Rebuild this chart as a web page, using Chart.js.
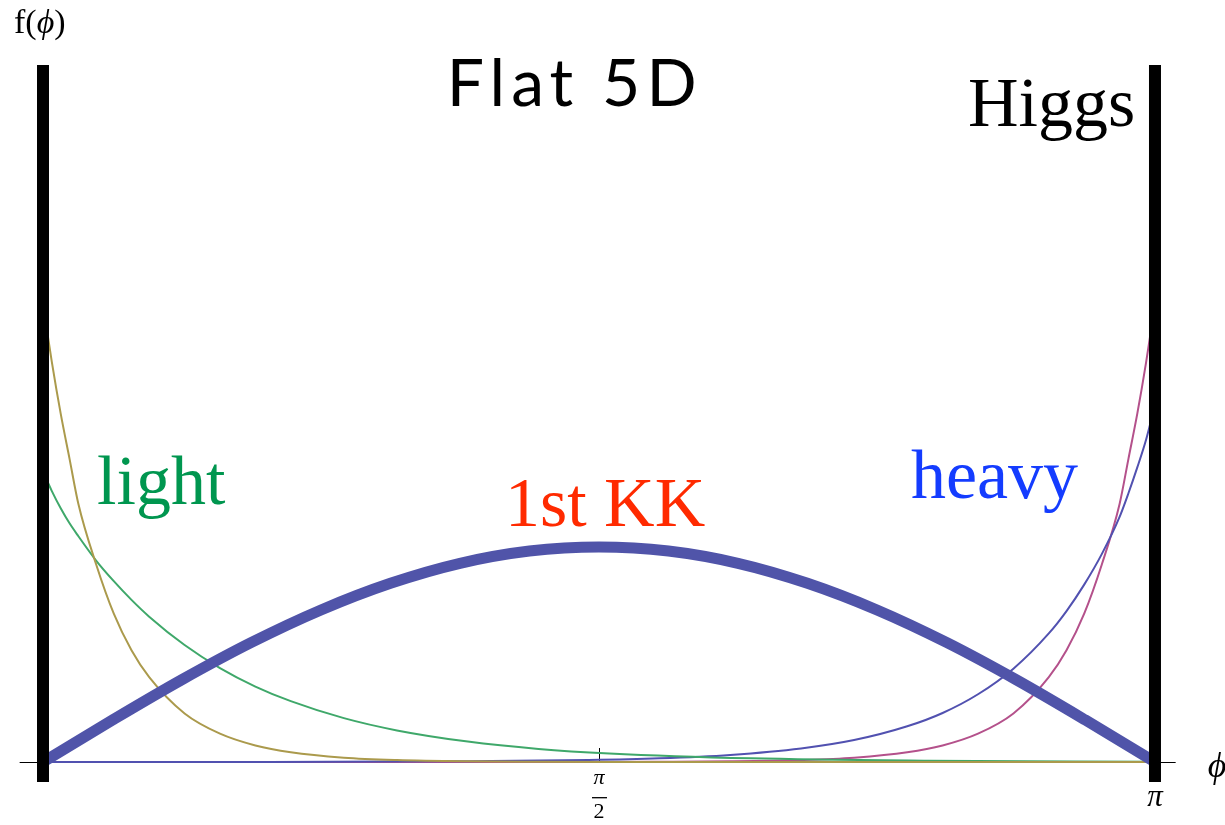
<!DOCTYPE html>
<html>
<head>
<meta charset="utf-8">
<script src="https://cdn.jsdelivr.net/npm/chart.js@4"></script>
<style>
  html, body { margin: 0; padding: 0; background: #ffffff; }
  #wrap { width: 1225px; height: 825px; }
</style>
</head>
<body>
<div id="wrap"><canvas id="c" width="1225" height="825"></canvas></div>
<script>
// Profiles f(phi) along the flat extra dimension, 0 <= phi <= pi
const phiKK = [0, 0.1963, 0.3927, 0.5890, 0.7854, 0.9817, 1.1781, 1.3744, 1.5708,
               1.7671, 1.9635, 2.1598, 2.3562, 2.5525, 2.7489, 2.9452, 3.1416];
const firstKK = [0, 0.195, 0.383, 0.556, 0.707, 0.831, 0.924, 0.981, 1.0,
                 0.981, 0.924, 0.831, 0.707, 0.556, 0.383, 0.195, 0];

// sample points packed towards the brane at phi = 0
const phiLeft = [0, 0.025, 0.05, 0.075, 0.1, 0.15, 0.2, 0.25, 0.3, 0.4, 0.5,
                 0.6, 0.7, 0.85, 1.0, 1.2, 1.4, 1.6, 2.0, 2.5, 3.1416];
const lightSteep = [2.13, 1.86, 1.62, 1.41, 1.20, 0.92, 0.69, 0.52, 0.395, 0.226, 0.132,
                    0.077, 0.045, 0.020, 0.009, 0.003, 0.001, 0, 0, 0, 0];
const lightSoft = [1.35, 1.26, 1.18, 1.11, 1.05, 0.937, 0.841, 0.754, 0.676, 0.544, 0.437,
                   0.351, 0.283, 0.204, 0.147, 0.095, 0.061, 0.040, 0.017, 0.006, 0.001];

// sample points packed towards the Higgs brane at phi = pi
const phiRight = [0, 0.6416, 1.1416, 1.5416, 1.7416, 1.9416, 2.1416, 2.2916, 2.4416, 2.5416, 2.6416,
                  2.7416, 2.8416, 2.8916, 2.9416, 2.9916, 3.0416, 3.0666, 3.0916, 3.1166, 3.1416];
const heavySoft = [0, 0, 0.003, 0.009, 0.017, 0.033, 0.063, 0.102, 0.166, 0.228, 0.315,
                   0.434, 0.598, 0.702, 0.825, 0.968, 1.14, 1.25, 1.37, 1.50, 1.66];
const heavySteep = [0, 0, 0, 0, 0.001, 0.003, 0.009, 0.020, 0.045, 0.077, 0.132,
                    0.226, 0.395, 0.52, 0.69, 0.92, 1.20, 1.41, 1.62, 1.86, 2.13];

// the two branes
const braneX = [0, 3.1416];
const braneSpan = [-0.093, 3.242];

const zip = (xs, ys) => xs.map((x, i) => ({ x: x, y: ys[i] }));

function curve(xs, ys, color, width, order) {
  return {
    data: zip(xs, ys),
    borderColor: color,
    borderWidth: width,
    pointRadius: 0,
    fill: false,
    cubicInterpolationMode: 'monotone',
    order: order
  };
}

function brane(x) {
  return {
    data: [{ x: x, y: braneSpan[0] }, { x: x, y: braneSpan[1] }],
    borderColor: '#000000',
    borderWidth: 12,
    pointRadius: 0,
    fill: false,
    borderCapStyle: 'butt',
    order: 0
  };
}

// axis line, tick, labels and annotations
const overlay = {
  id: 'overlay',
  beforeDatasetsDraw(chart) {
    const ctx = chart.ctx;
    const xs = chart.scales.x, ys = chart.scales.y;
    const y0 = ys.getPixelForValue(0);
    ctx.save();
    ctx.strokeStyle = '#000000';
    ctx.lineWidth = 1;
    ctx.beginPath();
    ctx.moveTo(xs.getPixelForValue(-0.066), y0 + 0.5);
    ctx.lineTo(xs.getPixelForValue(3.2), y0 + 0.5);
    ctx.stroke();
    const xm = Math.round(xs.getPixelForValue(Math.PI / 2)) + 0.5;
    ctx.beginPath();
    ctx.moveTo(xm, y0 - 14);
    ctx.lineTo(xm, y0);
    ctx.stroke();
    ctx.restore();
  },
  afterDatasetsDraw(chart) {
    const ctx = chart.ctx;
    const xs = chart.scales.x, ys = chart.scales.y;
    const px = v => xs.getPixelForValue(v);
    const py = v => ys.getPixelForValue(v);
    ctx.save();
    ctx.textBaseline = 'alphabetic';

    // title
    ctx.fillStyle = '#000000';
    ctx.font = '66px Lato';
    ctx.textAlign = 'left';
    ctx.letterSpacing = '6px';
    ctx.fillText('Flat 5D', px(1.141), py(3.051));
    ctx.letterSpacing = '0px';

    const serif = '"Liberation Serif", "Times New Roman", serif';
    ctx.font = '70px ' + serif;
    ctx.fillStyle = '#000000';
    ctx.fillText('Higgs', px(2.613), py(2.958));
    ctx.fillStyle = '#00964f';
    ctx.fillText('light', px(0.1526), py(1.2));
    ctx.fillStyle = '#ff2a00';
    ctx.fillText('1st KK', px(1.305), py(1.098));
    ctx.fillStyle = '#143cff';
    ctx.fillText('heavy', px(2.452), py(1.228));

    // axis names
    ctx.fillStyle = '#000000';
    ctx.font = '34px ' + serif;
    let x = px(-0.0819);
    const yb = py(3.391);
    ctx.fillText('f(', x, yb);
    x += ctx.measureText('f(').width;
    ctx.font = 'italic 34px ' + serif;
    ctx.fillText('\u03D5', x, yb);
    x += ctx.measureText('\u03D5').width;
    ctx.font = '34px ' + serif;
    ctx.fillText(')', x, yb);

    ctx.font = 'italic 36px ' + serif;
    ctx.textBaseline = 'middle';
    ctx.fillText('\u03D5', px(3.291), py(-0.028));

    // tick labels
    ctx.textAlign = 'center';
    ctx.font = 'italic 31px ' + serif;
    ctx.fillText('\u03C0', px(Math.PI), py(-0.165));
    const xm = px(Math.PI / 2);
    ctx.font = 'italic 22px ' + serif;
    ctx.fillText('\u03C0', xm, py(-0.075));
    ctx.font = '22px ' + serif;
    ctx.fillText('2', xm, py(-0.235));
    ctx.fillRect(xm - 7, py(-0.163), 15, 1.3);
    ctx.restore();
  }
};

new Chart(document.getElementById('c'), {
  type: 'line',
  data: {
    datasets: [
      brane(braneX[0]),
      brane(braneX[1]),
      curve(phiKK, firstKK, '#5054a9', 11, 1),
      curve(phiLeft, lightSteep, '#ab9a4c', 2, 2),
      curve(phiLeft, lightSoft, '#3fa86a', 2, 2),
      curve(phiRight, heavySoft, '#5151b0', 2, 2),
      curve(phiRight, heavySteep, '#b4518b', 2, 2)
    ]
  },
  options: {
    responsive: false,
    devicePixelRatio: 1,
    animation: false,
    events: [],
    layout: { padding: 0 },
    plugins: { legend: { display: false }, tooltip: { enabled: false }, title: { display: false } },
    scales: {
      x: { type: 'linear', display: false, min: -0.1215, max: 3.3394 },
      y: { type: 'linear', display: false, min: -0.293, max: 3.544 }
    }
  },
  plugins: [overlay]
});
</script>
</body>
</html>
